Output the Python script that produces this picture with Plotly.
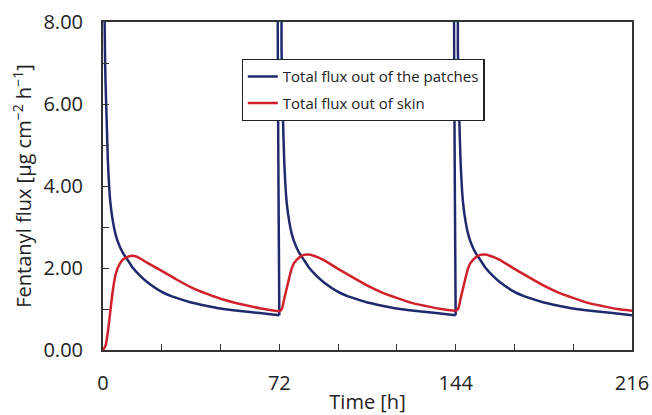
import plotly.graph_objects as go

# ---- data ----
# Total flux out of the patches, one list per 72 h patch cycle
patch_t_cycle1 = [0, 0.5, 0.8, 1.0, 1.5, 2.0, 2.5, 3.0, 4.0, 5.0, 6.0, 8.0, 10, 12, 15, 18, 24, 30, 36, 42, 48, 56, 64, 72]
patch_v_cycle1 = [14, 9.0, 7.3, 6.6, 5.6, 4.6, 4.0, 3.6, 3.15, 2.85, 2.65, 2.38, 2.2, 2.02, 1.82, 1.66, 1.42, 1.27, 1.16, 1.08, 1.01, 0.95, 0.90, 0.85]

patch_t_cycle2 = [72, 72, 72.4, 72.9, 73.2, 73.5, 74.0, 74.5, 75.0, 76, 77, 78, 80, 82, 84, 87, 90, 96, 102, 108, 114, 120, 128, 136, 144]
patch_v_cycle2 = [0.85, 14, 14, 7.3, 6.5, 5.6, 4.6, 4.0, 3.6, 3.15, 2.85, 2.65, 2.38, 2.2, 2.02, 1.82, 1.66, 1.42, 1.27, 1.16, 1.08, 1.01, 0.95, 0.90, 0.85]

patch_t_cycle3 = [144, 144, 144.4, 144.9, 145.2, 145.5, 146.0, 146.5, 147.0, 148, 149, 150, 152, 154, 156, 159, 162, 168, 174, 180, 186, 192, 200, 208, 216]
patch_v_cycle3 = [0.85, 14, 14, 7.3, 6.5, 5.6, 4.6, 4.0, 3.6, 3.15, 2.85, 2.65, 2.38, 2.2, 2.02, 1.82, 1.66, 1.42, 1.27, 1.16, 1.08, 1.01, 0.95, 0.90, 0.85]

# Total flux out of skin
skin_t = [0, 1, 2, 3, 4, 5, 6, 8, 10, 12, 14, 18, 24, 30, 36, 42, 48, 56, 64, 72,
          73, 74, 75, 76, 77, 78, 80, 82, 84, 86, 90, 96, 102, 108, 114, 120, 126, 132, 138, 144,
          145, 146, 147, 148, 149, 150, 152, 154, 156, 158, 162, 168, 174, 180, 186, 192, 198, 204, 210, 216]
skin_v = [0, 0.1, 0.45, 0.95, 1.45, 1.8, 2.0, 2.2, 2.27, 2.3, 2.27, 2.13, 1.93, 1.72, 1.53, 1.38, 1.25, 1.12, 1.02, 0.95,
          1.0, 1.25, 1.5, 1.75, 1.98, 2.12, 2.25, 2.32, 2.33, 2.3, 2.2, 1.98, 1.77, 1.57, 1.4, 1.27, 1.15, 1.07, 1.0, 0.96,
          1.0, 1.25, 1.5, 1.75, 1.98, 2.12, 2.25, 2.32, 2.33, 2.3, 2.2, 1.98, 1.77, 1.57, 1.4, 1.27, 1.15, 1.07, 1.0, 0.96]

x_tick_vals = [0, 72, 144, 216]
x_tick_text = ["0", "72", "144", "216"]
y_tick_vals = [0, 2, 4, 6, 8]
y_tick_text = ["0.00", "2.00", "4.00", "6.00", "8.00"]

series_names = ["Total flux out of the patches", "Total flux out of skin"]

# cycles joined with gaps so each cycle is smoothed on its own
patch_t = patch_t_cycle1 + [None] + patch_t_cycle2 + [None] + patch_t_cycle3
patch_v = patch_v_cycle1 + [None] + patch_v_cycle2 + [None] + patch_v_cycle3

BLUE = "#1f2a6e"
RED = "#d0202a"
FONT = "Open Sans"
AX = "#333333"

fig = go.Figure()
fig.add_trace(go.Scatter(x=patch_t, y=patch_v, mode="lines", connectgaps=False,
                         name=series_names[0], legendgroup="a",
                         line=dict(color=BLUE, width=2.5, shape="spline", smoothing=0.5)))
fig.add_trace(go.Scatter(x=skin_t, y=skin_v, mode="lines", name=series_names[1], legendgroup="b",
                         line=dict(color=RED, width=2.5, shape="spline", smoothing=0.6)))

fig.update_layout(
    width=652, height=415,
    margin=dict(l=103, r=20, t=22, b=65),
    paper_bgcolor="white", plot_bgcolor="white",
    font=dict(family=FONT, color="#222222", size=19),
    showlegend=True,
    legend=dict(x=0.262, y=0.887, xanchor="left", yanchor="top",
                bgcolor="white", bordercolor="#222222", borderwidth=1.2,
                font=dict(family=FONT, size=15, color="#222222"),
                traceorder="grouped", tracegroupgap=4),
)
fig.update_xaxes(range=[0, 216], tickvals=x_tick_vals, ticktext=x_tick_text,
                 ticks="inside", ticklen=6, tickcolor=AX,
                 minor=dict(dtick=24, ticks="inside", ticklen=6, tickcolor=AX, showgrid=False),
                 showline=True, linecolor=AX, linewidth=2, mirror=True,
                 showgrid=False, zeroline=False, automargin=False,
                 tickfont=dict(size=20), ticklabelstandoff=14,
                 title=dict(text="Time [h]", font=dict(size=20), standoff=2))
fig.update_yaxes(range=[0, 8], tickvals=y_tick_vals, ticktext=y_tick_text,
                 ticks="inside", ticklen=6, tickcolor=AX,
                 minor=dict(dtick=1, ticks="inside", ticklen=6, tickcolor=AX, showgrid=False),
                 showline=True, linecolor=AX, linewidth=2, mirror=True,
                 showgrid=False, zeroline=False, automargin=False,
                 tickfont=dict(size=20), ticklabelstandoff=14,
                 title=dict(text="Fentanyl flux [µg cm<sup>−2</sup> h<sup>−1</sup>]", font=dict(size=20), standoff=6))

fig.write_html("out.html")
